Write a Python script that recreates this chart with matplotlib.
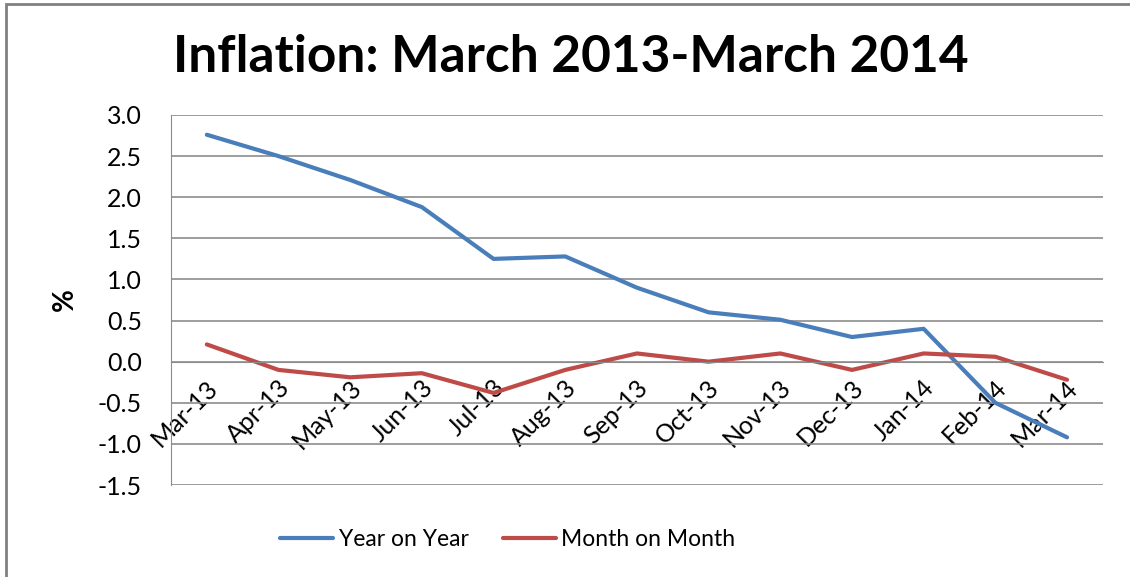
import matplotlib.pyplot as plt
import matplotlib
from matplotlib.patches import Rectangle
from matplotlib.transforms import ScaledTranslation

matplotlib.rc('font', family=['Lato', 'DejaVu Sans'])

months = ['Mar-13', 'Apr-13', 'May-13', 'Jun-13', 'Jul-13', 'Aug-13', 'Sep-13',
          'Oct-13', 'Nov-13', 'Dec-13', 'Jan-14', 'Feb-14', 'Mar-14']
year_on_year = [2.76, 2.50, 2.21, 1.88, 1.25, 1.28, 0.90, 0.60, 0.51, 0.30, 0.40, -0.50, -0.92]
month_on_month = [0.21, -0.10, -0.19, -0.14, -0.38, -0.10, 0.10, 0.00, 0.10, -0.10, 0.10, 0.06, -0.22]
yticks = [3.0, 2.5, 2.0, 1.5, 1.0, 0.5, 0.0, -0.5, -1.0, -1.5]

fig = plt.figure(figsize=(11.3, 5.77), dpi=100)
ax = fig.add_axes([0.1513, 0.1594, 0.976 - 0.1513, 0.8007 - 0.1594])

x = range(len(months))
ax.plot(x, year_on_year, color='#4A7EBB', lw=3, label='Year on Year', solid_capstyle='round')
ax.plot(x, month_on_month, color='#BE4B48', lw=3, label='Month on Month', solid_capstyle='round')

ax.set_xlim(-0.5, len(months) - 0.5)
ax.set_ylim(-1.5, 3.0)
ax.set_yticks(yticks)
ax.set_yticklabels(['%.1f' % v for v in yticks], fontsize=18)
ax.yaxis.grid(True, color='#8c8c8c', lw=1.2)
ax.set_axisbelow(True)

# category axis crosses at zero, like the spreadsheet chart
ax.spines['bottom'].set_position(('data', 0))
ax.spines['bottom'].set_color('#8c8c8c')
ax.spines['left'].set_color('#8c8c8c')
ax.spines['top'].set_visible(False)
ax.spines['right'].set_visible(False)
ax.set_xticks(list(x))
ax.set_xticklabels(months, rotation=45, ha='right', rotation_mode='anchor', fontsize=18)
ax.tick_params(axis='both', length=0)
ax.tick_params(axis='x', pad=10)
ax.tick_params(axis='y', pad=21)
shift = ScaledTranslation(-1 / 100, 0, fig.dpi_scale_trans)
for lab in ax.get_xticklabels():
    lab.set_transform(lab.get_transform() + shift)

ax.set_ylabel('%', fontsize=20, fontweight='bold', labelpad=14)
fig.text(0.505, 0.90, 'Inflation: March 2013-March 2014', ha='center', va='center',
         fontsize=37, fontweight='bold')

ax.legend(loc='center', bbox_to_anchor=(0.3616, -0.148), ncol=2, frameon=False,
          fontsize=16.5, handlelength=2.3, handletextpad=0.25, columnspacing=1.5)

fig.add_artist(Rectangle((6 / 1130, -0.1), 1.2, 1.1 - 3.5 / 577, transform=fig.transFigure,
                         fill=False, edgecolor='#808080', lw=2))

fig.savefig('out.png', dpi=100)
